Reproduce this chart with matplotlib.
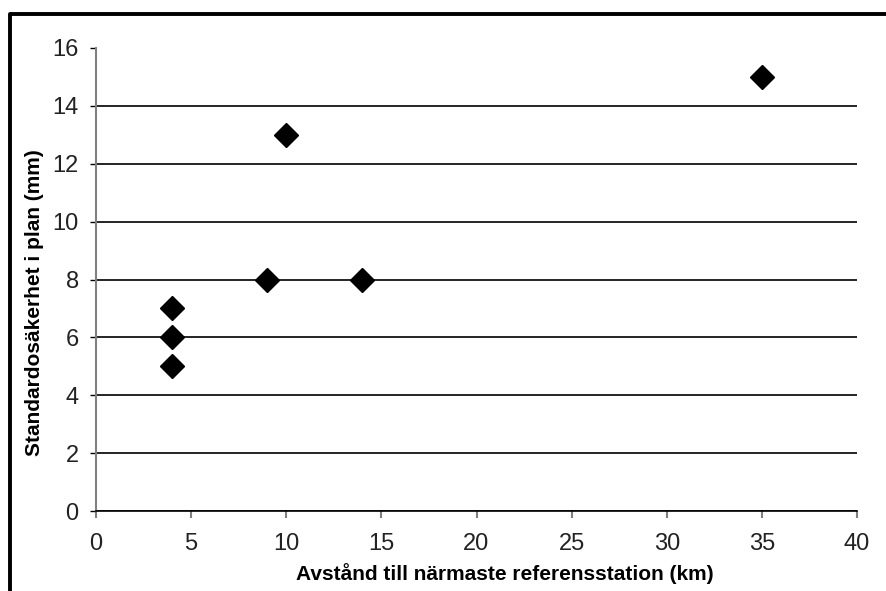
import numpy as np
import matplotlib.pyplot as plt
from matplotlib.lines import Line2D

## data
distance = [4, 4, 4, 9, 10, 14, 35]
precision = [7, 6, 5, 8, 13, 8, 15]

plt.rcParams['font.family'] = ['Liberation Sans', 'DejaVu Sans']

fig = plt.figure(figsize=(8.87, 5.91), dpi=100)
W, H = 887, 591
ax = fig.add_axes([96/W, (H-511)/H, (857-96)/W, (511-48)/H])

ax.plot(distance, precision, "D", color="black", markersize=12, clip_on=False, zorder=5)

ax.set_xlim(0, 40)
ax.set_ylim(0, 16)
ax.set_xticks(np.arange(0, 41, 5))
ax.set_yticks(np.arange(0, 17, 2))

# gridlines (no line at top)
ax.yaxis.grid(True, color="black", lw=1.2)
ax.get_ygridlines()[-1].set_visible(False)
ax.set_axisbelow(True)

for s in ["top", "right"]:
    ax.spines[s].set_visible(False)
ax.spines["left"].set_color("#808080")
ax.spines["left"].set_linewidth(1.5)
ax.spines["bottom"].set_color("black")
ax.spines["bottom"].set_linewidth(1.2)

ax.tick_params(axis="y", colors="black", length=4.5, width=1, pad=8, labelsize=17, labelcolor="#222222")
ax.tick_params(axis="x", colors="#808080", length=5, width=1.5, pad=11, labelsize=17, labelcolor="#222222")

ax.set_xlabel("Avstånd till närmaste referensstation (km)", fontsize=15, fontweight="bold")
ax.set_ylabel("Standardosäkerhet i plan (mm)", fontsize=15, fontweight="bold")
ax.xaxis.set_label_coords(0.537, -0.113)
ax.yaxis.set_label_coords(-0.068, 0.451)

# outer frame (left and top edges)
fig.add_artist(Line2D([10/W, 10/W, 1], [0, 1-13.5/H, 1-13.5/H], color="black", lw=2.8,
                      transform=fig.transFigure))

fig.savefig("out.png", dpi=100)
